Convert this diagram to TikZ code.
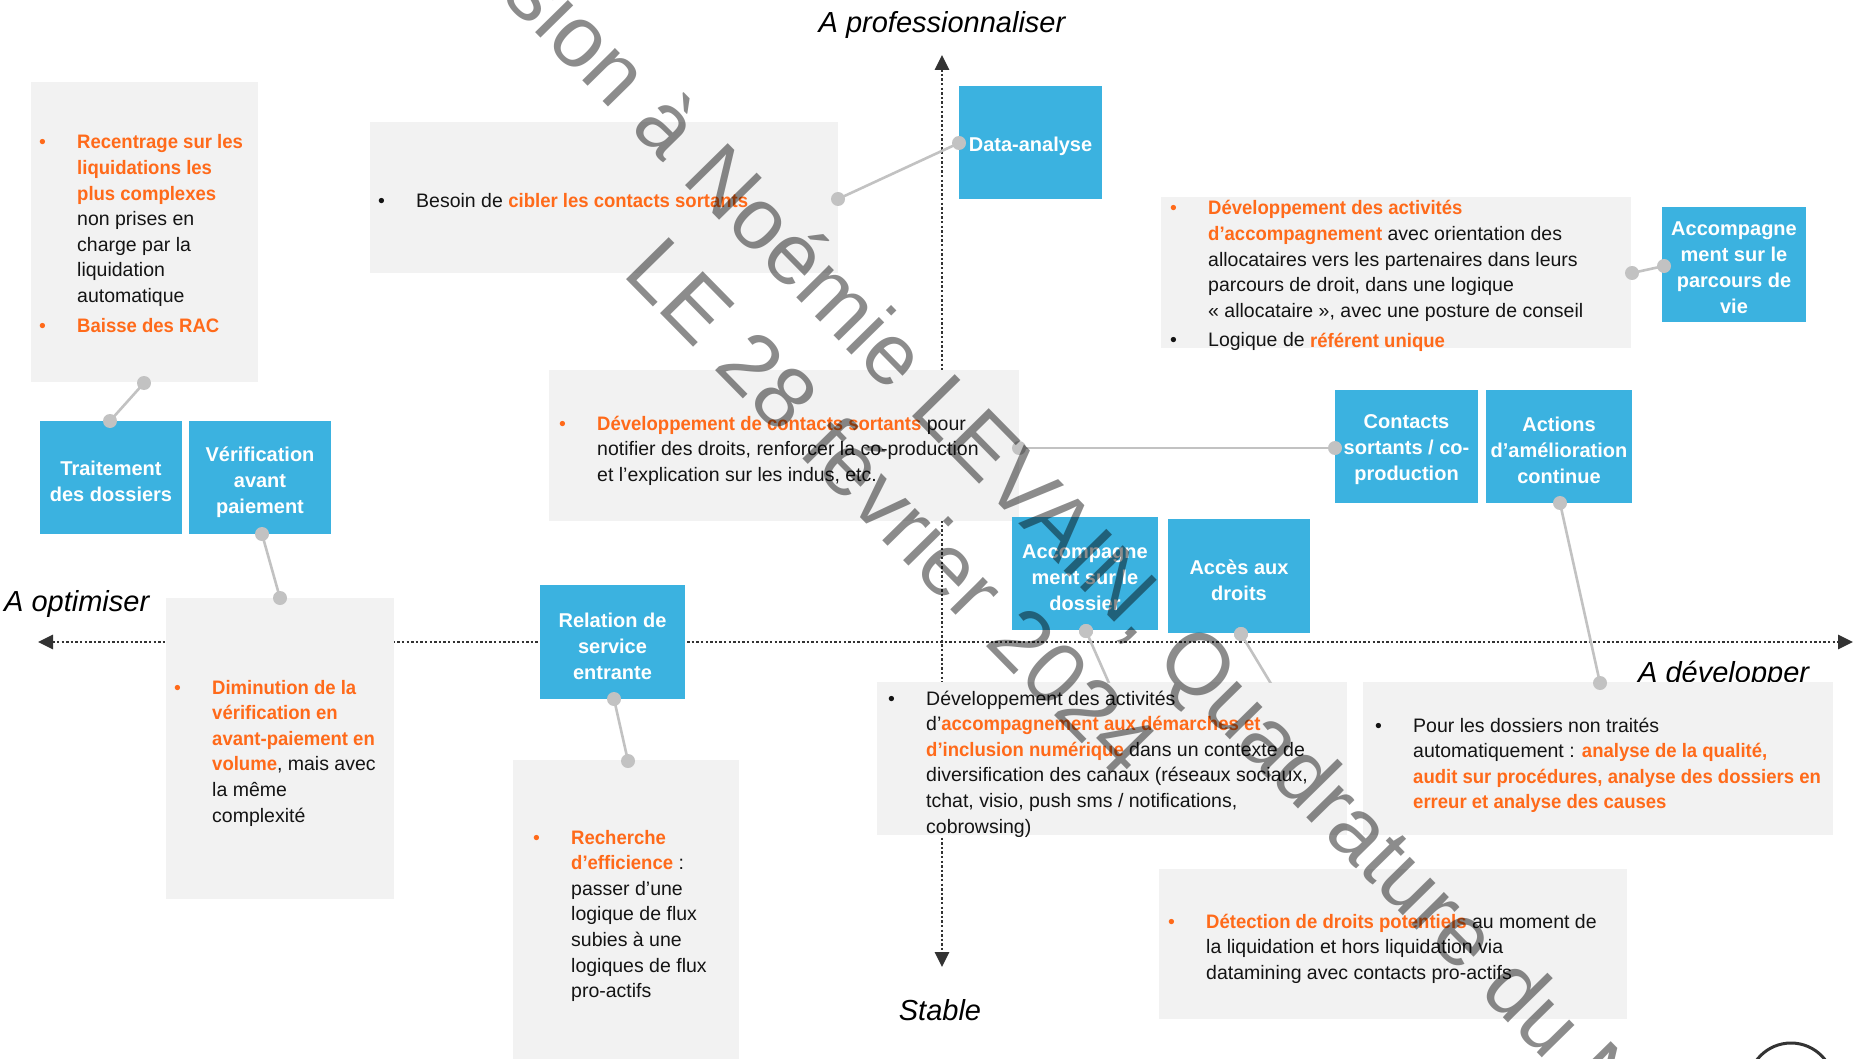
\documentclass[tikz,border=0pt]{standalone}
\usepackage{fontspec}
\setmainfont{Liberation Sans}
\newfontfamily\orfont{Liberation Sans}[FakeStretch=0.95]
\usetikzlibrary{arrows.meta}

\definecolor{boxgrey}{HTML}{F2F2F2}
\definecolor{tileblue}{HTML}{3BB2E0}
\definecolor{accent}{HTML}{FF6A1A}
\definecolor{ink}{HTML}{141414}
\definecolor{linkgrey}{HTML}{C2C2C2}
\definecolor{axisgrey}{HTML}{333333}

% orange highlighted words and bullets
\newcommand{\hot}[1]{{\orfont\bfseries\color{accent}#1}}
\newcommand{\obul}{\makebox[38pt][l]{\color{accent}\textbullet}}
\newcommand{\kbul}{\makebox[38pt][l]{\textbullet}}
\newcommand{\items}[1]{\begin{tabular}[t]{@{}l@{}l@{}}#1\end{tabular}}

\pgfdeclarelayer{links}
\pgfsetlayers{links,main}

\begin{document}
\begin{tikzpicture}[x=1pt,y=-1pt,
  greybox/.style={fill=boxgrey, draw=none, anchor=north west, inner sep=0pt, outer sep=0pt},
  tile/.style={fill=tileblue, inner sep=0pt, outer sep=0pt, minimum width=143pt, minimum height=113pt},
  tiletext/.style={text=white, font=\bfseries\fontsize{20}{26}\selectfont, align=center, inner sep=0pt},
  body/.style={anchor=base west, inner sep=0pt, text=ink, font=\fontsize{19.5}{25.6}\selectfont},
  head/.style={font=\itshape\fontsize{29}{34}\selectfont, text=black, inner sep=0pt},
  link/.style={draw=linkgrey, line width=2.6pt},
  dot/.style={circle, fill=linkgrey, minimum size=14pt, inner sep=0pt, outer sep=0pt},
  axis/.style={draw=axisgrey, line width=2.8pt, dash pattern=on 2.4pt off 2.2pt,
    {Triangle[length=15pt,width=14pt]}-{Triangle[length=15pt,width=14pt]}},
  wm/.style={font=\fontsize{87}{100}\selectfont, text=black, text opacity=0.45,
    inner sep=0pt, anchor=base west, rotate=-45.5},
]
\useasboundingbox (0,0) rectangle (1854,1059);

% ---------- background and axes (bottom layer) ----------
\coordinate (axW) at (38,642);
\coordinate (axE) at (1853,642);
\coordinate (axN) at (942,55);
\coordinate (axS) at (942,967);
\begin{pgfonlayer}{links}
  \fill[white] (0,0) rectangle (1854,1059);
  \draw[axis] (axW) -- (axE);
  \draw[axis] (axN) -- (axS);
\end{pgfonlayer}

\clip (0,0) rectangle (1854,1059);

% ---------- axis captions ----------
\node[head, anchor=base] (capTop) at (942,33) {A professionnaliser};
\node[head, anchor=base] (capBottom) at (940,1020) {Stable};
\node[head, anchor=base west] (capLeft) at (4,611) {A optimiser};
\node[head, anchor=base west] (capRight) at (1638,682) {A développer};

% ---------- connector ends hidden under the lower box ----------
\node[dot] (d8b) at (1112,690) {};
\node[dot] (d9b) at (1276,692) {};

% ---------- grey text boxes ----------
\node[greybox, minimum width=227pt, minimum height=300pt] (bA) at (31,82) {};
\node[greybox, minimum width=468pt, minimum height=151pt] (bB) at (370,122) {};
\node[greybox, minimum width=470pt, minimum height=151pt] (bC) at (549,370) {};
\node[greybox, minimum width=470pt, minimum height=151pt] (bD) at (1161,197) {};
\node[greybox, minimum width=228pt, minimum height=301pt] (bE) at (166,598) {};
\node[greybox, minimum width=226pt, minimum height=302pt] (bF) at (513,760) {};
\node[greybox, minimum width=470pt, minimum height=153pt] (bG) at (877,682) {};
\node[greybox, minimum width=470pt, minimum height=153pt] (bH) at (1363,682) {};
\node[greybox, minimum width=468pt, minimum height=150pt] (bI) at (1159,869) {};

% ---------- blue tiles ----------
\node[tile] (tData) at (1030.5,142.5) {};
\node[tile, minimum width=142pt] (tTrait) at (111,477.5) {};
\node[tile, minimum width=142pt] (tVerif) at (260,477.5) {};
\node[tile, minimum width=145pt, minimum height=114pt] (tRel) at (612.5,642) {};
\node[tile] (tCont) at (1406.5,446) {};
\node[tile, minimum width=146pt] (tAct) at (1559,446) {};
\node[tile, minimum width=144pt, minimum height=115pt] (tVie) at (1734,264.5) {};
\node[tile, minimum width=146pt] (tDos) at (1085,573.5) {};
\node[tile, minimum width=142pt, minimum height=114pt] (tDroits) at (1239,576) {};

% tile captions, set a little below the tile centre
\node[tiletext] (lData) at ([yshift=-4pt]tData.center) {Data-analyse};
\node[tiletext] (lTrait) at ([yshift=-4pt]tTrait.center) {Traitement\\des dossiers};
\node[tiletext] (lVerif) at ([yshift=-5pt]tVerif.center) {Vérification\\avant\\paiement};
\node[tiletext] (lRel) at ([yshift=-4pt]tRel.center) {Relation de\\service\\entrante};
\node[tiletext] (lCont) at ([yshift=-4pt]tCont.center) {Contacts\\sortants / co-\\production};
\node[tiletext] (lAct) at ([yshift=-4pt]tAct.center) {Actions\\d’amélioration\\continue};
\node[tiletext] (lVie) at ([yshift=-3pt]tVie.center) {Accompagne\\ment sur le\\parcours de\\vie};
\node[tiletext] (lDos) at ([yshift=-4pt]tDos.center) {Accompagne\\ment sur le\\dossier};
\node[tiletext] (lDroits) at ([yshift=-4pt]tDroits.center) {Accès aux\\droits};

% ---------- connector dots ----------
\node[dot] (d1a) at (144,383) {};
\node[dot] (d1b) at (110,421) {};
\node[dot] (d2a) at (262,534) {};
\node[dot] (d2b) at (280,598) {};
\node[dot] (d3a) at (838,199) {};
\node[dot] (d3b) at (959,143) {};
\node[dot] (d4a) at (1019,448) {};
\node[dot] (d4b) at (1335,448) {};
\node[dot] (d5a) at (1632,273) {};
\node[dot] (d5b) at (1664,266) {};
\node[dot] (d6a) at (614,699) {};
\node[dot] (d6b) at (628,761) {};
\node[dot] (d7a) at (1560,503) {};
\node[dot] (d7b) at (1600,683) {};
\node[dot] (d8a) at (1086,631) {};
\node[dot] (d9a) at (1241,634) {};

\begin{pgfonlayer}{links}
  \draw[link] (d1a.center) -- (d1b.center);
  \draw[link] (d2a.center) -- (d2b.center);
  \draw[link] (d3a.center) -- (d3b.center);
  \draw[link] (d4a.center) -- (d4b.center);
  \draw[link] (d5a.center) -- (d5b.center);
  \draw[link] (d6a.center) -- (d6b.center);
  \draw[link] (d7a.center) -- (d7b.center);
\end{pgfonlayer}
% the two links below run down under the lower box
\begin{scope}
  \clip (0,0) rectangle (1854,682);
  \draw[link] (d8a.center) -- (d8b.center);
  \draw[link] (d9a.center) -- (d9b.center);
\end{scope}
\node[dot] (d8top) at (d8a) {};
\node[dot] (d9top) at (d9a) {};

% ---------- box texts ----------
\node[body] (xA) at (39,149) {\items{%
  \obul & \hot{Recentrage sur les}\\
        & \hot{liquidations les}\\
        & \hot{plus complexes}\\
        & non prises en\\
        & charge par la\\
        & liquidation\\
        & automatique\\[4pt]
  \obul & \hot{Baisse des RAC}}};

\node[body] (xB) at (378,208) {\items{%
  \kbul & Besoin de \hot{cibler les contacts sortants}}};

\node[body] (xC) at (559,430) {\items{%
  \obul & \hot{Développement de contacts sortants} pour\\
        & notifier des droits, renforcer la co-production\\
        & et l’explication sur les indus, etc.}};

\node[body] (xD) at (1170,215) {\items{%
  \obul & \hot{Développement des activités}\\
        & \hot{d’accompagnement} avec orientation des\\
        & allocataires vers les partenaires dans leurs\\
        & parcours de droit, dans une logique\\
        & « allocataire », avec une posture de conseil\\[4pt]
  \kbul & Logique de \hot{référent unique}}};

\node[body] (xE) at (174,694) {\items{%
  \obul & \hot{Diminution de la}\\
        & \hot{vérification en}\\
        & \hot{avant-paiement en}\\
        & \hot{volume}, mais avec\\
        & la même\\
        & complexité}};

\node[body] (xF) at (533,844) {\items{%
  \obul & \hot{Recherche}\\
        & \hot{d’efficience} :\\
        & passer d’une\\
        & logique de flux\\
        & subies à une\\
        & logiques de flux\\
        & pro-actifs}};

\node[body] (xG) at (888,705) {\items{%
  \kbul & Développement des activités\\
        & d’\hot{accompagnement aux démarches et}\\
        & \hot{d’inclusion numérique} dans un contexte de\\
        & diversification des canaux (réseaux sociaux,\\
        & tchat, visio, push sms / notifications,\\
        & cobrowsing)}};

\node[body] (xH) at (1375,732) {\items{%
  \kbul & Pour les dossiers non traités\\
        & automatiquement : \hot{analyse de la qualité,}\\
        & \hot{audit sur procédures, analyse des dossiers en}\\
        & \hot{erreur et analyse des causes}}};

\node[body] (xI) at (1168,928) {\items{%
  \obul & \hot{Détection de droits potentiels} au moment de\\
        & la liquidation et hors liquidation via\\
        & datamining avec contacts pro-actifs}};

% ---------- logo edge, bottom right ----------
\draw[axisgrey, line width=3pt] (1791,1086) circle[radius=43pt];

% ---------- diagonal watermark ----------
\node[wm] (wm1) at (409,-96) {Version à Noémie LEVAIN, Quadrature du Net};
\node[wm] (wm2) at (621,274) {LE 28 février 2024};
\end{tikzpicture}
\end{document}
